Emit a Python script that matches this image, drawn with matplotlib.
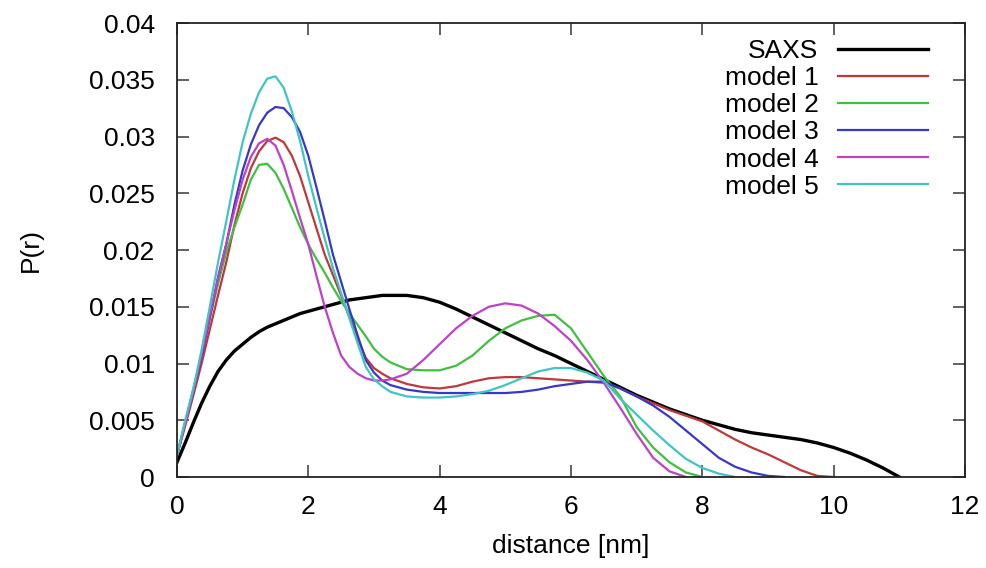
import numpy as np
import matplotlib
matplotlib.use("Agg")
import matplotlib.pyplot as plt

plt.rcParams['font.family'] = ['Liberation Sans', 'DejaVu Sans']

# distance grid (nm): 0.125 nm steps up to 3.25, then 0.25 nm steps
r = np.concatenate([np.linspace(0, 3.25, 27), np.linspace(3.5, 11, 31)])

# P(r) curves
saxs = [0.0013, 0.0030, 0.0048, 0.0065, 0.0080, 0.0093, 0.0103, 0.0111, 0.0117,
        0.0123, 0.0128, 0.0132, 0.0135, 0.0138, 0.0141, 0.0144, 0.0146, 0.0148,
        0.0150, 0.0152, 0.0154, 0.0156, 0.0157, 0.0158, 0.0159, 0.0160, 0.0160,
        0.0160, 0.0158, 0.0154, 0.0148, 0.0141, 0.0134, 0.0127, 0.0120, 0.0113,
        0.0107, 0.0100, 0.0093, 0.0086, 0.0079, 0.0072, 0.0066, 0.0060, 0.0055,
        0.0050, 0.0046, 0.0042, 0.0039, 0.0037, 0.0035, 0.0033, 0.0030, 0.0026,
        0.0021, 0.0015, 0.0008, 0.0000]
model1 = [0.0019, 0.0045, 0.0072, 0.0100, 0.0130, 0.0160, 0.0189, 0.0222, 0.0250,
          0.0272, 0.0287, 0.0296, 0.0299, 0.0295, 0.0283, 0.0265, 0.0242, 0.0219,
          0.0196, 0.0178, 0.0160, 0.0141, 0.0122, 0.0105, 0.0096, 0.0091, 0.0087,
          0.0082, 0.0079, 0.0078, 0.0080, 0.0084, 0.0087, 0.0088, 0.0088, 0.0087,
          0.0086, 0.0085, 0.0084, 0.0083, 0.0078, 0.0071, 0.0065, 0.0059, 0.0054,
          0.0049, 0.0041, 0.0033, 0.0026, 0.0020, 0.0013, 0.0006, 0.0001, 0.0000]
model2 = [0.0019, 0.0048, 0.0078, 0.0108, 0.0140, 0.0170, 0.0198, 0.0220, 0.0240,
          0.0262, 0.0275, 0.0276, 0.0268, 0.0254, 0.0237, 0.0220, 0.0205, 0.0192,
          0.0180, 0.0167, 0.0155, 0.0144, 0.0134, 0.0124, 0.0113, 0.0106, 0.0101,
          0.0095, 0.0094, 0.0094, 0.0098, 0.0107, 0.0120, 0.0131, 0.0138, 0.0142,
          0.0143, 0.0131, 0.0110, 0.0089, 0.0071, 0.0044, 0.0026, 0.0013, 0.0004,
          0.0000]
model3 = [0.0019, 0.0048, 0.0075, 0.0106, 0.0140, 0.0176, 0.0205, 0.0240, 0.0270,
          0.0293, 0.0310, 0.0321, 0.0326, 0.0325, 0.0317, 0.0304, 0.0283, 0.0255,
          0.0226, 0.0196, 0.0172, 0.0148, 0.0125, 0.0103, 0.0092, 0.0085, 0.0081,
          0.0077, 0.0075, 0.0074, 0.0074, 0.0074, 0.0074, 0.0074, 0.0075, 0.0077,
          0.0080, 0.0082, 0.0084, 0.0084, 0.0078, 0.0071, 0.0063, 0.0053, 0.0041,
          0.0029, 0.0017, 0.0009, 0.0004, 0.0001, 0.0000]
model4 = [0.0019, 0.0047, 0.0076, 0.0108, 0.0142, 0.0175, 0.0205, 0.0235, 0.0262,
          0.0282, 0.0294, 0.0298, 0.0292, 0.0275, 0.0252, 0.0228, 0.0205, 0.0177,
          0.0150, 0.0127, 0.0107, 0.0097, 0.0091, 0.0087, 0.0085, 0.0085, 0.0086,
          0.0091, 0.0103, 0.0117, 0.0131, 0.0142, 0.0150, 0.0153, 0.0151, 0.0144,
          0.0133, 0.0120, 0.0103, 0.0083, 0.0061, 0.0038, 0.0017, 0.0005, 0.0000]
model5 = [0.0019, 0.0050, 0.0078, 0.0112, 0.0150, 0.0189, 0.0225, 0.0262, 0.0295,
          0.0320, 0.0339, 0.0351, 0.0353, 0.0343, 0.0322, 0.0296, 0.0265, 0.0237,
          0.0210, 0.0184, 0.0162, 0.0140, 0.0118, 0.0097, 0.0086, 0.0080, 0.0075,
          0.0071, 0.0070, 0.0070, 0.0071, 0.0073, 0.0076, 0.0081, 0.0087, 0.0093,
          0.0096, 0.0096, 0.0092, 0.0085, 0.0069, 0.0055, 0.0041, 0.0028, 0.0016,
          0.0008, 0.0003, 0.0000]

labels = ["SAXS", "model 1", "model 2", "model 3", "model 4", "model 5"]
series = [saxs, model1, model2, model3, model4, model5]
colors = ["black", "#c03838", "#40c040", "#3838c8", "#c040c8", "#40c4c4"]
widths = [2.4, 1.6, 1.6, 1.6, 1.6, 1.6]

fig = plt.figure(figsize=(9.87, 5.68), dpi=100)
ax = fig.add_axes([0.1793, 0.1602, 0.7984, 0.7993])

for lab, y, c, w in zip(labels, series, colors, widths):
    ax.plot(r[:len(y)], y, color=c, lw=w, label=lab)

ax.set_xlim(0, 12)
ax.set_ylim(0, 0.04)
ax.set_xticks(np.arange(0, 13, 2))
ax.set_yticks(np.arange(0, 0.0401, 0.005))
ax.set_yticklabels(["0", "0.005", "0.01", "0.015", "0.02", "0.025", "0.03", "0.035", "0.04"])

ax.tick_params(direction="in", length=8.5, width=1.3, color="#555555",
               top=True, right=True, labelsize=19)
ax.tick_params(axis="y", pad=16)
ax.tick_params(axis="x", pad=13)
for s in ax.spines.values():
    s.set_linewidth(1.3)
    s.set_color("#222222")

ax.set_xlabel("distance [nm]", fontsize=19, labelpad=11)
ax.set_ylabel("P(r)", fontsize=19, labelpad=33)

ax.legend(loc="upper right", bbox_to_anchor=(0.953, 0.965), frameon=False,
          markerfirst=False, fontsize=19, handlelength=3.4, handletextpad=0.75,
          labelspacing=0.12, borderpad=0, borderaxespad=0)

fig.savefig("out.png", dpi=100)
